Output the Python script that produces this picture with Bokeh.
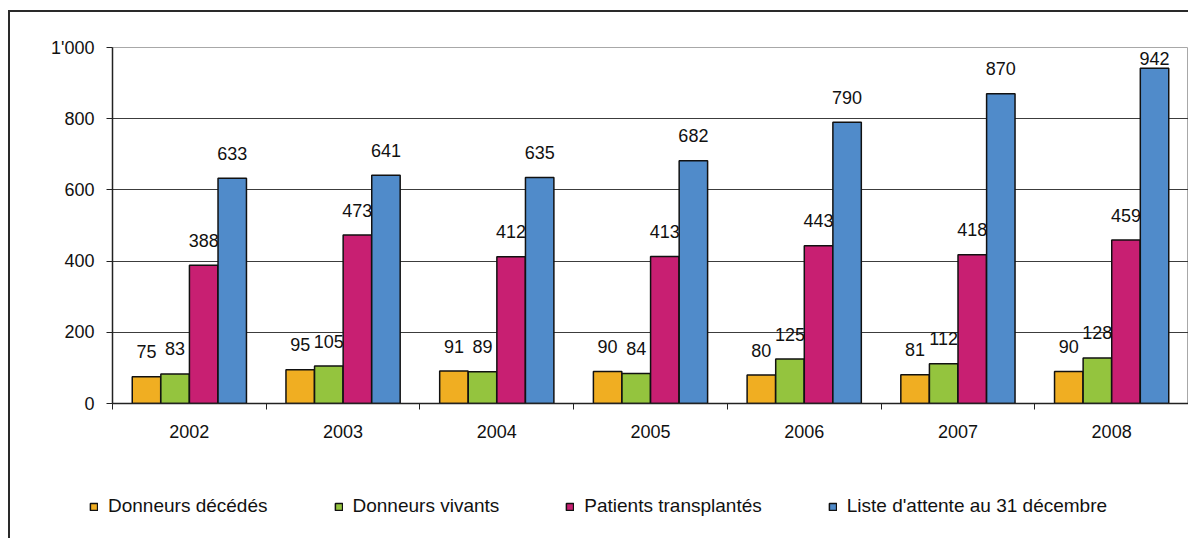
from bokeh.plotting import figure
from bokeh.models import FixedTicker, Legend, LegendItem, Range1d
from bokeh.layouts import column
from bokeh.embed import file_html
from bokeh.resources import INLINE
from bokeh.core.properties import value

years = ["2002", "2003", "2004", "2005", "2006", "2007", "2008"]
deceased_donors = [75, 95, 91, 90, 80, 81, 90]
living_donors = [83, 105, 89, 84, 125, 112, 128]
transplanted = [388, 473, 412, 413, 443, 418, 459]
waiting_list = [633, 641, 635, 682, 790, 870, 942]
y_ticks = [0, 200, 400, 600, 800, 1000]

series_names = ["Donneurs décédés", "Donneurs vivants", "Patients transplantés",
                "Liste d'attente au 31 décembre"]
series_values = [deceased_donors, living_donors, transplanted, waiting_list]
colors = ["#F0AE22", "#94C43E", "#C81F72", "#508BCA"]
offsets = [-0.279, -0.093, 0.093, 0.279]
bar_w = 0.185

FONT = "Liberation Sans"
FRAME_H = 356
Y_MAX = 1000

p = figure(width=1178, height=448, output_backend="svg", toolbar_location=None,
           x_range=Range1d(0, len(years)), y_range=Range1d(0, Y_MAX),
           min_border_left=102, min_border_right=0, min_border_top=35,
           min_border_bottom=57)
p.frame_align = False
p.background_fill_color = "white"
p.border_fill_color = "white"
p.outline_line_color = "#a8a8a8"
p.outline_line_width = 1

px_per_unit = FRAME_H / Y_MAX
for name, vals, col, off in zip(series_names, series_values, colors, offsets):
    xs = [i + 0.5 + off for i in range(len(years))]
    p.vbar(x=xs, top=vals, width=bar_w, fill_color=col,
           line_color="#111111", line_width=1.5)
    yoff = [-min(25.0, (Y_MAX - v) * px_per_unit - 11.0) for v in vals]
    p.text(x=xs, y=vals, text=[str(v) for v in vals], y_offset=yoff,
           text_align="center", text_baseline="middle",
           text_font=value(FONT), text_font_size="18px", text_color="#111111")

# axes
p.xaxis.ticker = FixedTicker(ticks=[i + 0.5 for i in range(len(years))],
                             minor_ticks=list(range(len(years) + 1)))
p.xaxis.major_label_overrides = {i + 0.5: y for i, y in enumerate(years)}
p.xaxis.major_tick_in = 0
p.xaxis.major_tick_out = 0
p.xaxis.minor_tick_in = 0
p.xaxis.minor_tick_out = 6
p.xaxis.minor_tick_line_color = "#222222"
p.xaxis.axis_line_color = "#222222"
p.xaxis.axis_line_width = 1.5
p.xaxis.major_label_standoff = 15
p.xaxis.major_label_text_font = FONT
p.xaxis.major_label_text_font_size = "18px"
p.xaxis.major_label_text_color = "#111111"

p.yaxis.ticker = FixedTicker(ticks=y_ticks)
p.yaxis.major_label_overrides = {1000: "1'000"}
p.yaxis.major_tick_in = 0
p.yaxis.major_tick_out = 6
p.yaxis.minor_tick_line_color = None
p.yaxis.major_tick_line_color = "#222222"
p.yaxis.axis_line_color = "#222222"
p.yaxis.axis_line_width = 1.5
p.yaxis.major_label_standoff = 12
p.yaxis.major_label_text_font = FONT
p.yaxis.major_label_text_font_size = "18px"
p.yaxis.major_label_text_color = "#111111"

p.xgrid.visible = False
p.ygrid.ticker = FixedTicker(ticks=y_ticks[1:-1])
p.ygrid.grid_line_color = "#3c3c3c"
p.ygrid.grid_line_width = 1

# legend strip under the chart (its bar renderers are hidden; only swatches show)
lg = figure(width=1178, height=78, output_backend="svg", toolbar_location=None,
            x_range=Range1d(0, len(years)), y_range=Range1d(0, Y_MAX),
            min_border_left=0, min_border_right=0, min_border_top=0,
            min_border_bottom=0)
lg.frame_align = False
lg.axis.visible = False
lg.grid.visible = False
lg.outline_line_color = None
lg.background_fill_color = "white"
lg.border_fill_color = "white"
items = []
for name, vals, col, off in zip(series_names, series_values, colors, offsets):
    xs = [i + 0.5 + off for i in range(len(years))]
    r = lg.vbar(x=xs, top=vals, width=bar_w, fill_color=col,
                line_color="#111111", line_width=1.5)
    r.visible = False
    items.append(LegendItem(label=name, renderers=[r]))
legend = Legend(items=items, orientation="horizontal", location=(79, 21),
                padding=0, margin=0, spacing=66, label_standoff=10,
                glyph_width=9, glyph_height=9, label_height=20,
                label_text_font=FONT, label_text_font_size="19px",
                label_text_color="#111111", border_line_color=None,
                background_fill_alpha=0, click_policy="none")
lg.add_layout(legend, "center")

layout = column(p, lg, spacing=0,
                styles={"border-top": "2px solid #2a2a2a",
                        "border-left": "2px solid #2a2a2a",
                        "margin-top": "10px", "margin-left": "8px"})

open("out.html", "w").write(file_html(layout, INLINE))
